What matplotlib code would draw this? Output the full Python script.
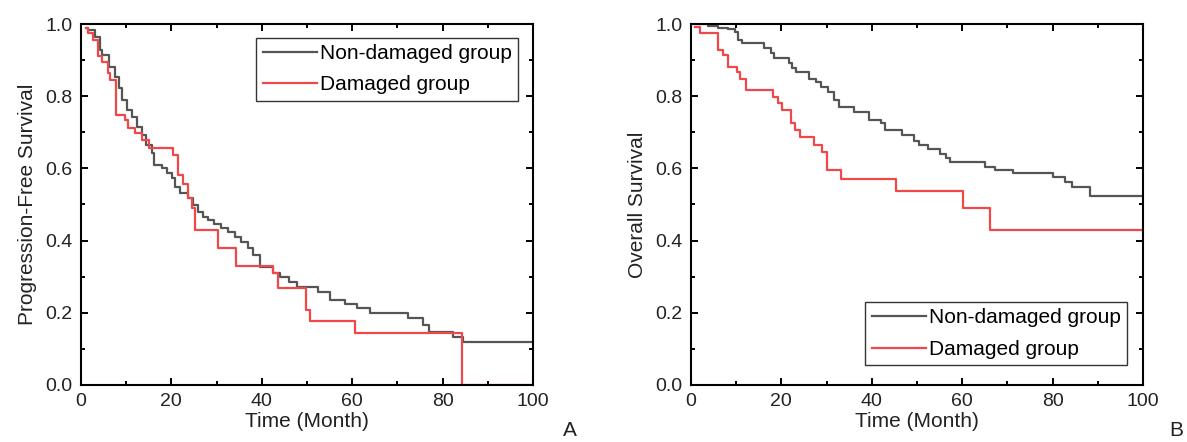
import matplotlib
matplotlib.use('Agg')
import matplotlib.pyplot as plt
from matplotlib.ticker import MultipleLocator

plt.rcParams['font.family'] = ['Liberation Sans', 'DejaVu Sans']

FOLLOW_UP = 100

# Panel A: progression-free survival (Kaplan-Meier steps)
pfs_nd_t = [1.2, 1.6, 3.1, 4.2, 4.6, 6.2, 7.5, 8.4, 9.1, 10.2, 11.3, 12.4, 13.5, 14.4,
            15.7, 16.1, 18.0, 19.1, 20.2, 20.9, 22.0, 23.7, 24.7, 25.8, 26.9, 28.0,
            29.5, 31.0, 32.5, 34.0, 35.5, 37.0, 38.0, 39.6, 42.5, 44.0, 46.0, 47.7,
            52.5, 55.0, 58.4, 61.0, 64.0, 72.3, 75.7, 77.0, 82.4, 84.6]
pfs_nd_s = [0.99, 0.983, 0.965, 0.928, 0.914, 0.882, 0.854, 0.822, 0.79, 0.762, 0.743,
            0.715, 0.693, 0.665, 0.642, 0.609, 0.60, 0.587, 0.573, 0.549, 0.531, 0.517,
            0.499, 0.48, 0.466, 0.457, 0.445, 0.435, 0.425, 0.41, 0.395, 0.38, 0.36,
            0.328, 0.31, 0.30, 0.285, 0.272, 0.258, 0.235, 0.224, 0.213, 0.20, 0.186,
            0.165, 0.148, 0.134, 0.12]
pfs_d_t = [1.2, 1.6, 2.7, 3.7, 4.7, 5.9, 6.4, 7.7, 9.7, 10.5, 12.0, 13.6, 15.0, 20.4,
           21.5, 22.6, 23.7, 24.6, 25.2, 30.3, 34.3, 42.5, 43.5, 49.8, 50.7, 60.6, 84.3]
pfs_d_s = [0.99, 0.974, 0.956, 0.91, 0.896, 0.863, 0.845, 0.748, 0.734, 0.713, 0.697,
           0.679, 0.657, 0.637, 0.582, 0.558, 0.517, 0.49, 0.43, 0.38, 0.33, 0.31, 0.27,
           0.208, 0.177, 0.144, 0.0]

# Panel B: overall survival
os_nd_t = [0.9, 3.8, 6.0, 8.2, 9.7, 10.4, 11.2, 16.2, 17.7, 18.4, 21.7, 22.4, 23.2,
           26.2, 27.7, 28.8, 30.3, 31.7, 32.8, 36.0, 39.4, 42.0, 43.0, 46.7, 49.4,
           50.5, 52.5, 55.0, 56.5, 57.3, 65.0, 67.3, 71.3, 80.1, 82.7, 84.2, 88.3]
os_nd_s = [1.0, 0.995, 0.99, 0.985, 0.979, 0.956, 0.947, 0.933, 0.919, 0.905, 0.891,
           0.877, 0.868, 0.849, 0.84, 0.826, 0.812, 0.789, 0.771, 0.757, 0.734, 0.725,
           0.706, 0.693, 0.675, 0.665, 0.655, 0.64, 0.63, 0.619, 0.605, 0.596, 0.586,
           0.577, 0.563, 0.549, 0.524]
os_d_t = [0.9, 2.0, 6.0, 7.2, 8.1, 10.1, 10.8, 12.1, 18.2, 19.2, 20.2, 22.1, 23.0,
          24.1, 27.3, 29.0, 30.2, 33.1, 45.3, 60.2, 66.2]
os_d_s = [0.993, 0.974, 0.928, 0.914, 0.882, 0.868, 0.849, 0.817, 0.799, 0.78, 0.762,
          0.725, 0.706, 0.688, 0.665, 0.646, 0.596, 0.572, 0.538, 0.489, 0.429]

labels = ['Non-damaged group', 'Damaged group']
colors = ['#555555', '#f04848']


def km(ax, t, s, color, label):
    ax.step(t + [FOLLOW_UP], s + [s[-1]], where='post', color=color, lw=1.6, label=label)


def style(ax, ylabel):
    ax.set_xlim(0, 100)
    ax.set_ylim(0, 1.0)
    ax.xaxis.set_major_locator(MultipleLocator(20))
    ax.xaxis.set_minor_locator(MultipleLocator(10))
    ax.yaxis.set_major_locator(MultipleLocator(0.2))
    ax.yaxis.set_minor_locator(MultipleLocator(0.1))
    ax.yaxis.set_major_formatter(matplotlib.ticker.FormatStrFormatter('%.1f'))
    ax.tick_params(which='both', direction='in', top=True, right=True,
                   width=1.4, labelsize=14, labelcolor='#222222', pad=6)
    ax.tick_params(which='major', length=5)
    ax.tick_params(which='minor', length=3)
    for sp in ax.spines.values():
        sp.set_linewidth(1.5)
    ax.set_xlabel('Time (Month)', fontsize=15, color='#222222', labelpad=1)
    ax.set_ylabel(ylabel, fontsize=15, color='#222222', labelpad=6)


def add_legend(ax, loc, anchor):
    leg = ax.legend(loc=loc, bbox_to_anchor=anchor, fontsize=15,
                    frameon=True, fancybox=False, framealpha=1, edgecolor='#333333',
                    handlelength=2.6, handletextpad=0.15, borderpad=0.3,
                    labelspacing=0.6, borderaxespad=0)
    leg.get_frame().set_linewidth(1.0)
    return leg


fig = plt.figure(figsize=(11.87, 4.42), dpi=100)
axA = fig.add_axes([0.0682, 0.129, 0.3808, 0.8167])
axB = fig.add_axes([0.5821, 0.129, 0.3808, 0.8167])

km(axA, pfs_nd_t, pfs_nd_s, colors[0], labels[0])
km(axA, pfs_d_t, pfs_d_s, colors[1], labels[1])
style(axA, 'Progression-Free Survival')
add_legend(axA, 'upper right', (0.967, 0.962))

km(axB, os_nd_t, os_nd_s, colors[0], labels[0])
km(axB, os_d_t, os_d_s, colors[1], labels[1])
style(axB, 'Overall Survival')
add_legend(axB, 'lower right', (0.965, 0.055))

fig.text(570 / 1187, 1 - 431 / 442, 'A', fontsize=15, color='#222222', ha='center', va='center')
fig.text(1176 / 1187, 1 - 431 / 442, 'B', fontsize=15, color='#222222', ha='center', va='center')

fig.savefig('out.png', dpi=100)
